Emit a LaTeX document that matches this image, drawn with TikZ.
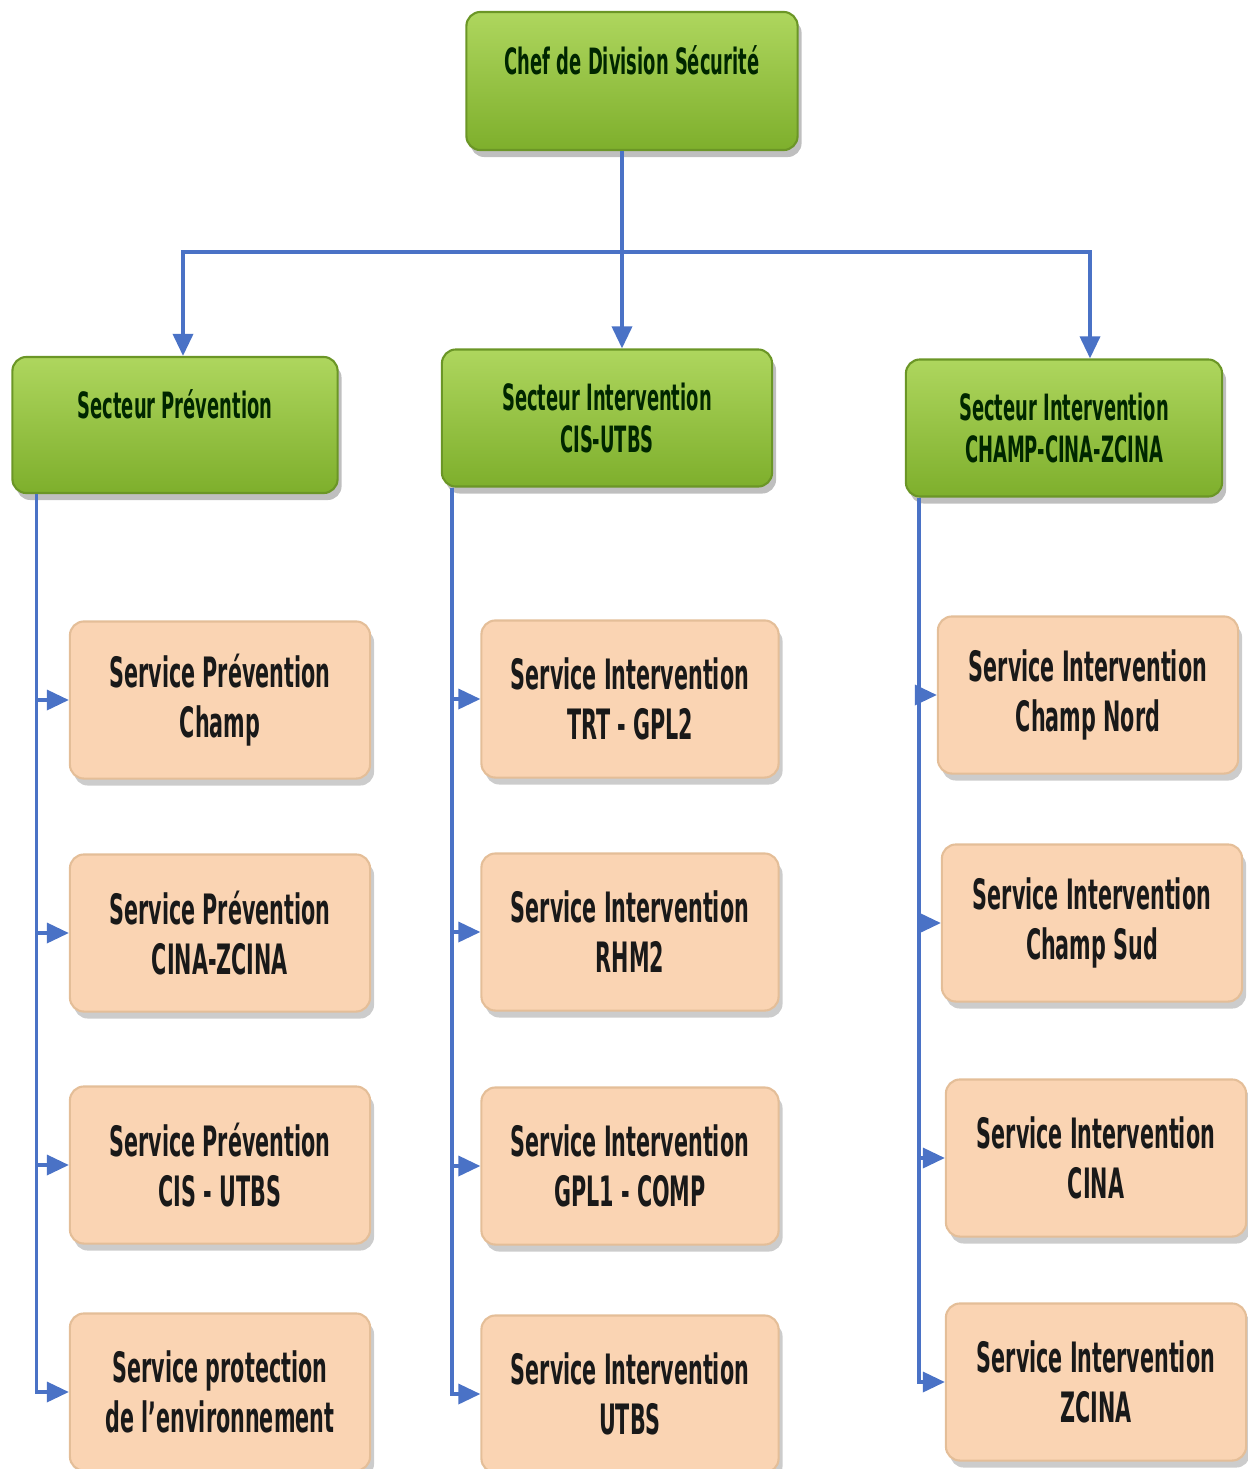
\documentclass[tikz,border=0pt]{standalone}
\usepackage{fontspec}
\newfontfamily\boxfont[FakeStretch=0.55]{DejaVu Sans Condensed}
\usetikzlibrary{shadows,arrows.meta}

\definecolor{greentop}{HTML}{AED65E}
\definecolor{greenbot}{HTML}{7EAF2C}
\definecolor{greenline}{HTML}{6B9626}
\definecolor{peach}{HTML}{FAD4B3}
\definecolor{peachline}{HTML}{E4BE98}
\definecolor{linkblue}{HTML}{4A72C6}

\tikzset{
	head/.style={draw=greenline, line width=0.6pt, rounded corners=0.14cm,
		top color=greentop, bottom color=greenbot, align=center,
		font=\boxfont\bfseries\fontsize{10.3}{12.2}\selectfont, text=black!85!green,
		drop shadow={shadow xshift=0.04cm, shadow yshift=-0.07cm, opacity=0.5}},
	serv/.style={draw=peachline, line width=0.6pt, rounded corners=0.14cm,
		fill=peach, align=center, minimum width=3cm, minimum height=1.57cm,
		font=\boxfont\bfseries\fontsize{11.9}{14.2}\selectfont, text=black!90,
		drop shadow={shadow xshift=0.04cm, shadow yshift=-0.07cm, opacity=0.4}},
	link/.style={draw=linkblue, line width=1pt, -{Triangle[length=0.22cm,width=0.2cm]}},
}

\begin{document}
\begin{tikzpicture}[x=0.01cm, y=-0.01cm]

	\useasboundingbox (0,0) rectangle (1248,1469);

	\node[head, minimum width=3.31cm, minimum height=1.38cm] (chief) at (632,81)
		{Chef de Division Sécurité\\\mbox{}};

	\node[head, minimum width=3.25cm, minimum height=1.36cm] (sp) at (175,425)
		{Secteur Prévention\\\mbox{}};
	\node[head, minimum width=3.30cm, minimum height=1.37cm] (ci) at (607,418)
		{Secteur Intervention\\CIS-UTBS};
	\node[head, minimum width=3.16cm, minimum height=1.37cm] (sc) at (1064,428)
		{Secteur Intervention\\CHAMP-CINA-ZCINA};

	\node[serv] (sp1) at (220,700) {Service Prévention\\Champ};
	\node[serv] (sp2) at (220,933) {Service Prévention\\CINA-ZCINA};
	\node[serv] (sp3) at (220,1165) {Service Prévention\\CIS - UTBS};
	\node[serv] (sp4) at (220,1392) {Service protection\\de l’environnement};

	\node[serv, minimum width=2.97cm] (ci1) at (630,699) {Service Intervention\\TRT - GPL2};
	\node[serv, minimum width=2.97cm] (ci2) at (630,932) {Service Intervention\\RHM2};
	\node[serv, minimum width=2.97cm] (ci3) at (630,1166) {Service Intervention\\GPL1 - COMP};
	\node[serv, minimum width=2.97cm] (ci4) at (630,1394) {Service Intervention\\UTBS};

	\node[serv] (sc1) at (1088,695) {Service Intervention\\Champ Nord};
	\node[serv] (sc2) at (1092,923) {Service Intervention\\Champ Sud};
	\node[serv] (sc3) at (1096,1158) {Service Intervention\\CINA};
	\node[serv] (sc4) at (1096,1382) {Service Intervention\\ZCINA};

	\coordinate (bus) at (622,252);

	\draw[link, -] ([xshift=-0.1cm]chief.south) -- (bus);
	\draw[link] (bus) -| ([xshift=0.08cm]sp.north);
	\draw[link] (bus) -- (bus |- ci.north);
	\draw[link] (bus) -| ([xshift=0.26cm]sc.north);

	\foreach \i in {1,...,4} {
		\draw[link] ([xshift=0.25cm]sp.south west) |- (sp\i.west);
		\draw[link] ([xshift=0.11cm]ci.south west) |- (ci\i.west);
		\draw[link] ([xshift=0.14cm]sc.south west) |- (sc\i.west);
	}

\end{tikzpicture}
\end{document}
